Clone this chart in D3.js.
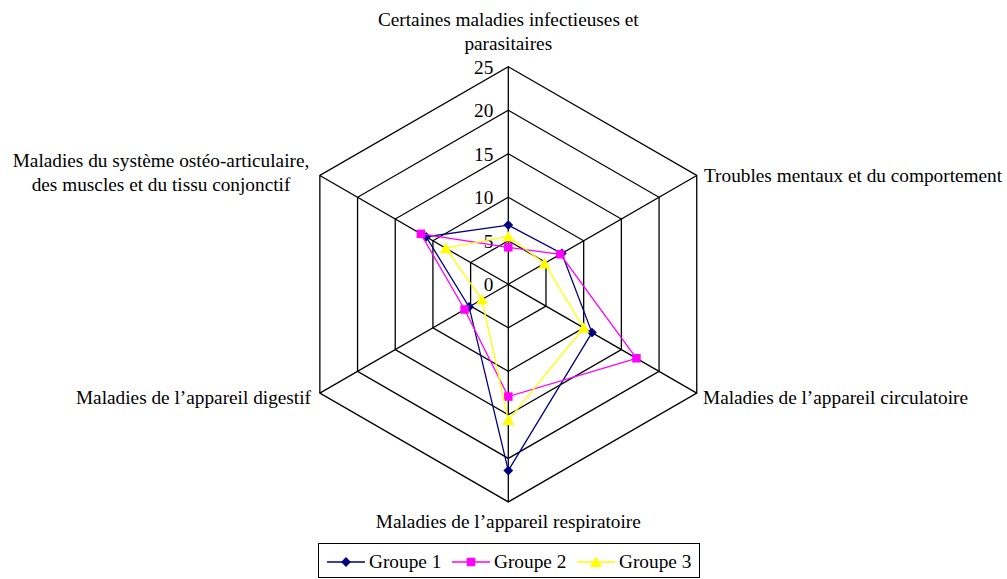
<!DOCTYPE html>
<html>
<head>
<meta charset="utf-8">
<script src="https://d3js.org/d3.v7.min.js"></script>
<style>
body{margin:0;background:#fff;}
svg text{font-family:"Liberation Serif","Times New Roman",serif;font-size:19.3px;fill:#000;}
</style>
</head>
<body>
<div id="chart"></div>
<script>
// axis categories, clockwise from the top
var categories=[
	["Certaines maladies infectieuses et","parasitaires"],
	["Troubles mentaux et du comportement"],
	["Maladies de l\u2019appareil circulatoire"],
	["Maladies de l\u2019appareil respiratoire"],
	["Maladies de l\u2019appareil digestif"],
	["Maladies du système ostéo-articulaire,","des muscles et du tissu conjonctif"]
];
var ticks=[0,5,10,15,20,25];
var seriesNames=["Groupe 1","Groupe 2","Groupe 3"];
var groupe1=[6.8,7.1,11.1,21.4,5.2,10.9];
var groupe2=[4.25,6.9,17.0,12.9,5.8,11.6];
var groupe3=[5.5,4.8,10.0,15.6,3.5,8.3];
var colors=["#000080","#ff00ff","#ffff00"];
var symbols=[d3.symbolSquare,d3.symbolSquare,d3.symbolTriangle];
var symSize=[48,72,64];
var symRot=[45,0,0];
var symDy=[0,0,1.5];

var width=1007,height=579;
var cx=508.3,cy=284.3,R=217.6;

var svg=d3.select("#chart").append("svg").attr("width",width).attr("height",height);

var r=d3.scaleLinear().domain([0,25]).range([0,R]);
var n=categories.length;
var angle=function(i){return i*2*Math.PI/n;};
var pt=function(i,v){return [cx+r(v)*Math.sin(angle(i)),cy-r(v)*Math.cos(angle(i))];};

var g=svg.append("g");

// hexagon grid
ticks.slice(1).forEach(function(t){
	g.append("path")
		.attr("d",d3.line()(d3.range(n).map(function(i){return pt(i,t);}))+"Z")
		.attr("fill","none").attr("stroke","#000").attr("stroke-width",1.3);
});
// spokes
d3.range(n).forEach(function(i){
	var p=pt(i,25);
	g.append("line").attr("x1",cx).attr("y1",cy).attr("x2",p[0]).attr("y2",p[1])
		.attr("stroke","#000").attr("stroke-width",1.3);
});

// tick labels
g.selectAll(".tick").data(ticks).enter().append("text")
	.attr("x",cx-15).attr("y",function(d){return cy-r(d)+7;})
	.attr("text-anchor","end")
	.text(function(d){return d;});

// category labels
var labelPos=[
	{x:cx,y:26,a:"middle"},
	{x:704,y:182,a:"start"},
	{x:703,y:404,a:"start"},
	{x:cx,y:528,a:"middle"},
	{x:311,y:404,a:"end"},
	{x:161,y:167,a:"middle"}
];
categories.forEach(function(lines,i){
	var t=g.append("text").attr("text-anchor",labelPos[i].a);
	lines.forEach(function(l,j){
		t.append("tspan").attr("x",labelPos[i].x).attr("y",labelPos[i].y+j*23.5).text(l);
	});
});

function marker(sel,s,x,y){
	sel.append("path")
		.attr("transform","translate("+x+","+(y+symDy[s])+") rotate("+symRot[s]+")")
		.attr("d",d3.symbol().type(symbols[s]).size(symSize[s]))
		.attr("fill",colors[s]);
}

// series
[groupe1,groupe2,groupe3].forEach(function(vals,s){
	var pts=vals.map(function(v,i){return pt(i,v);});
	g.append("path").attr("d",d3.line()(pts)+"Z")
		.attr("fill","none").attr("stroke",colors[s]).attr("stroke-width",1.3);
	pts.forEach(function(p){marker(g,s,p[0],p[1]);});
});

// legend
var lg=svg.append("g");
lg.append("rect").attr("x",318.5).attr("y",543.5).attr("width",381).attr("height",34)
	.attr("fill","#fff").attr("stroke","#000").attr("stroke-width",1);
var legX=[327,452,577];
seriesNames.forEach(function(name,s){
	var x=legX[s];
	lg.append("line").attr("x1",x).attr("x2",x+38).attr("y1",562).attr("y2",562)
		.attr("stroke",colors[s]).attr("stroke-width",1.3);
	marker(lg,s,x+19,562);
	lg.append("text").attr("x",x+42).attr("y",568).text(name);
});
</script>
</body>
</html>
